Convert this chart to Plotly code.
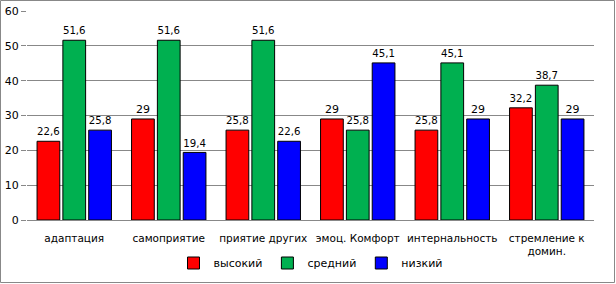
import plotly.graph_objects as go

categories = ["адаптация", "самоприятие", "приятие других", "эмоц. Комфорт", "интернальность", "стремление к<br>домин."]
high = [22.6, 29, 25.8, 29, 25.8, 32.2]
mid = [51.6, 51.6, 51.6, 25.8, 45.1, 38.7]
low = [25.8, 19.4, 22.6, 45.1, 29, 29]
series_names = ["высокий", "средний", "низкий"]
colors = ["#FF0000", "#00B050", "#0000FF"]
y_ticks = [0, 10, 20, 30, 40, 50, 60]

def fmt(v):
    return ("%g" % v).replace(".", ",")

fig = go.Figure()
for name, vals, col in zip(series_names, [high, mid, low], colors):
    fig.add_trace(go.Bar(
        x=categories, y=vals, name=name,
        marker=dict(color=col, line=dict(color="black", width=1)),
        text=[fmt(v) for v in vals], textposition="outside",
        textfont=dict(color="black", size=11), cliponaxis=False,
    ))

W, H = 616, 284
ml, mr, mt, mb = 27, 22, 11, 64
pw, ph = W - ml - mr, H - mt - mb

fig.update_layout(
    width=W, height=H,
    margin=dict(l=ml, r=mr, t=mt, b=mb, autoexpand=False),
    barmode="group", bargap=0.18, bargroupgap=0.12,
    plot_bgcolor="white", paper_bgcolor="white",
    font=dict(family="DejaVu Sans, Verdana, sans-serif", size=11, color="black"),
    showlegend=True,
    legend=dict(orientation="h", x=0.5, xanchor="center", y=(mt + ph - 263) / ph, yanchor="middle",
                font=dict(size=11), traceorder="normal", itemclick=False, tracegroupgap=0),
    yaxis=dict(range=[0, 60], tickvals=y_ticks, showgrid=True, gridcolor="#888888", gridwidth=1,
               ticks="outside", ticklen=5, tickcolor="#888888", showline=False, zeroline=False,
               tickfont=dict(size=11), automargin=False),
    xaxis=dict(showline=True, linecolor="#888888", linewidth=1, ticks="", tickfont=dict(size=10.5),
               tickangle=0, automargin=False, ticklabelstandoff=8),
)
fig.add_shape(type="rect", xref="paper", yref="paper",
              x0=(0.5 - ml) / pw, x1=(W - 1.5 - ml) / pw,
              y0=(mt + ph - (H - 1.5)) / ph, y1=(mt + ph - 0.5) / ph,
              line=dict(color="#888888", width=1), fillcolor="rgba(0,0,0,0)")
fig.write_html("out.html", config={"displayModeBar": False},
               post_script="document.body.style.margin='0';document.body.style.overflow='hidden';")
